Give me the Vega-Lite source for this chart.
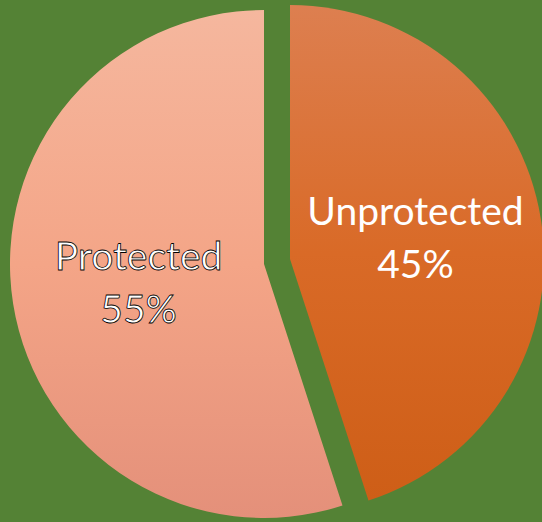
{
  "$schema": "https://vega.github.io/schema/vega-lite/v6.json",
  "autosize": {"type": "fit", "contains": "padding"},
  "width": 542,
  "height": 522,
  "padding": 0,
  "background": "#548235",
  "view": {"stroke": null},
  "data": {"values": [
    {"category": "Unprotected", "share": 0.45},
    {"category": "Protected", "share": 0.55}
  ]},
  "encoding": {
    "theta": {"field": "share", "type": "quantitative", "stack": true},
    "order": {"field": "category", "sort": "descending"}
  },
  "layer": [
    {
      "mark": {"type": "arc", "radius": 254, "xOffset": -5, "yOffset": 3,
        "fill": {"gradient": "linear", "x1": 0, "y1": 0, "x2": 0, "y2": 1,
          "stops": [{"offset": 0, "color": "#F5B79E"}, {"offset": 0.5, "color": "#F4A587"}, {"offset": 1, "color": "#E4907A"}]}},
      "encoding": {"opacity": {"condition": {"test": "datum.category === 'Protected'", "value": 1}, "value": 0}}
    },
    {
      "mark": {"type": "arc", "radius": 254, "xOffset": 21, "yOffset": -2,
        "fill": {"gradient": "linear", "x1": 0, "y1": 0, "x2": 0, "y2": 1,
          "stops": [{"offset": 0, "color": "#DD7F50"}, {"offset": 0.5, "color": "#D96A27"}, {"offset": 1, "color": "#CE5E17"}]}},
      "encoding": {"opacity": {"condition": {"test": "datum.category === 'Unprotected'", "value": 1}, "value": 0}}
    },
    {
      "mark": {"type": "text", "radius": 127, "xOffset": -5, "yOffset": 3, "dy": -26, "font": "Lato", "fontSize": 39, "fill": "white", "stroke": "black", "strokeWidth": 0.8},
      "encoding": {
        "text": {"field": "category"},
        "opacity": {"condition": {"test": "datum.category === 'Protected'", "value": 1}, "value": 0}
      }
    },
    {
      "mark": {"type": "text", "radius": 127, "xOffset": -5, "yOffset": 3, "dy": 27, "font": "Lato", "fontSize": 39, "fill": "white", "stroke": "black", "strokeWidth": 0.8},
      "encoding": {
        "text": {"field": "share", "format": ".0%"},
        "opacity": {"condition": {"test": "datum.category === 'Protected'", "value": 1}, "value": 0}
      }
    },
    {
      "mark": {"type": "text", "radius": 127, "xOffset": 21, "yOffset": -2, "dy": -26, "font": "Lato", "fontSize": 39, "fill": "white"},
      "encoding": {
        "text": {"field": "category"},
        "opacity": {"condition": {"test": "datum.category === 'Unprotected'", "value": 1}, "value": 0}
      }
    },
    {
      "mark": {"type": "text", "radius": 127, "xOffset": 21, "yOffset": -2, "dy": 27, "font": "Lato", "fontSize": 39, "fill": "white"},
      "encoding": {
        "text": {"field": "share", "format": ".0%"},
        "opacity": {"condition": {"test": "datum.category === 'Unprotected'", "value": 1}, "value": 0}
      }
    }
  ]
}
